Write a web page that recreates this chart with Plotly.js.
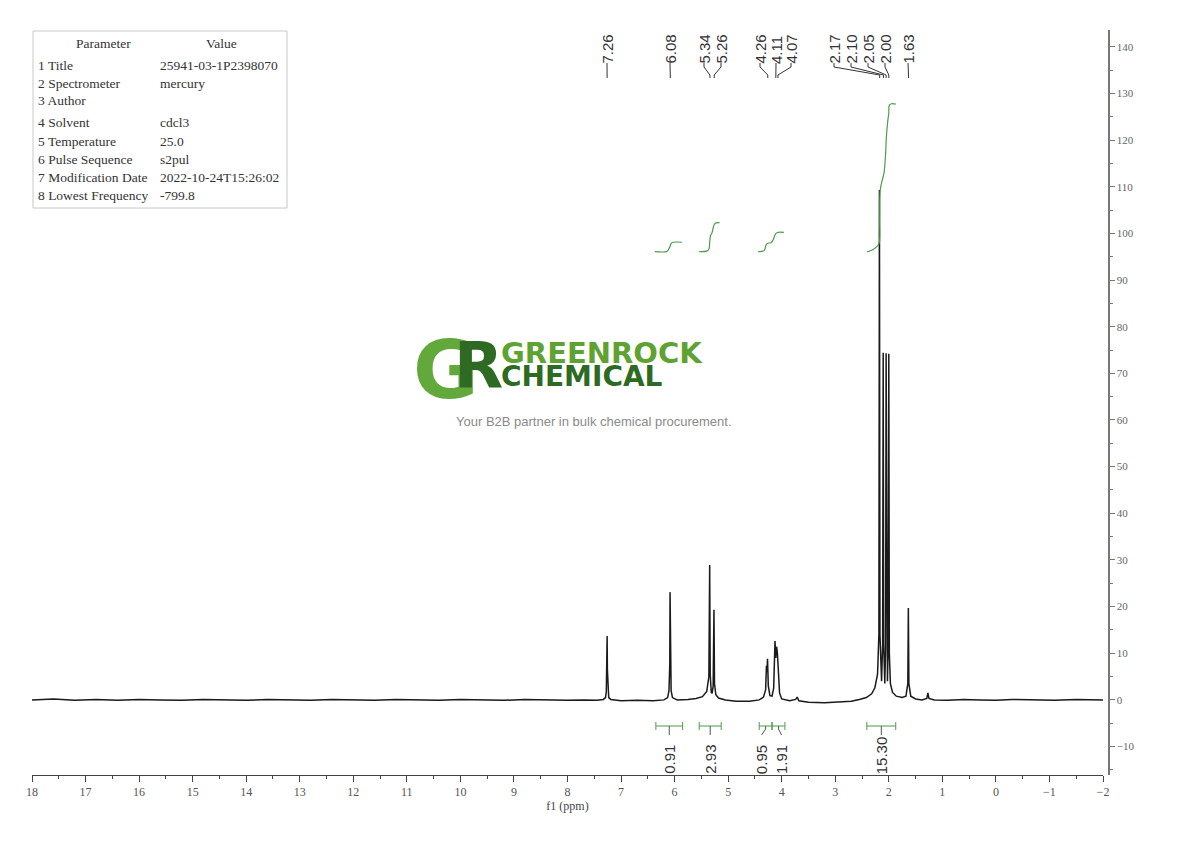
<!DOCTYPE html>
<html>
<head>
<meta charset="utf-8">
<script src="https://cdn.plot.ly/plotly-3.0.1.min.js"></script>
<style>html,body{margin:0;padding:0;background:#fff;}#chart{width:1190px;height:841px;}</style>
</head>
<body>
<div id="chart"></div>
<script>
// ---------------- DATA ----------------
const ppm = [18,17.6,17.2,16.8,16.4,16.0,15.6,15.2,14.8,14.4,14.0,13.6,13.2,12.8,12.4,12.0,11.6,11.2,10.8,10.4,10.0,9.6,9.2,8.8,8.4,8.0,7.7,7.45,
  7.33,7.29,7.275,7.265,7.26,7.255,7.245,7.23,7.19,7.0,6.7,6.4,6.2,
  6.13,6.105,6.09,6.085,6.08,6.065,6.04,5.95,5.75,5.6,5.48,5.40,5.36,5.345,5.335,5.315,5.30,5.28,5.265,5.255,5.23,5.18,5.05,4.85,4.6,
  4.42,4.34,4.30,4.285,4.275,4.265,4.25,4.22,4.18,4.15,4.125,4.11,4.095,4.08,4.065,4.04,4.0,3.85,3.74,3.71,3.68,3.5,3.2,2.9,2.7,2.55,
  2.42,2.32,2.26,2.21,2.185,2.175,2.165,2.135,2.115,2.105,2.095,2.075,2.06,2.05,2.04,2.025,2.01,2.0,1.99,1.97,1.93,1.86,1.75,1.68,
  1.645,1.635,1.625,1.59,1.5,1.38,1.29,1.27,1.25,1.15,0.9,0.6,0.3,0.0,-0.3,-0.7,-1.1,-1.5,-1.8,-2.0];
const intensity = [0.0,0.2,-0.1,0.1,-0.1,0.1,0.0,-0.1,0.1,0.0,-0.1,0.1,0.0,-0.1,0.1,0.0,-0.1,0.1,0.0,-0.1,0.1,0.0,-0.1,0.1,0.0,-0.1,0.0,-0.1,
  0.1,0.5,1.8,6.5,13.7,6.5,1.8,0.5,0.1,-0.2,-0.1,-0.2,0.0,
  0.5,2.0,7.5,23.1,7.5,2.0,0.5,0.0,0.1,0.3,0.7,1.8,5.0,28.9,5.5,1.6,1.4,3.0,19.3,3.5,1.1,0.4,0.0,-0.3,-0.3,
  0.0,0.6,2.2,7.3,6.0,8.8,3.0,0.9,0.8,2.5,12.6,9.0,11.4,10.0,6.0,1.5,0.2,-0.2,0.1,0.6,-0.2,-0.5,-0.6,-0.5,-0.3,0.1,
  0.5,1.3,2.6,5.5,14,109.3,14,4.0,12,74.4,12,3.5,11,74.3,11,4.0,12,74.2,10,3.5,1.6,0.8,0.5,0.8,
  3.5,19.7,3.5,0.8,0.2,0.0,0.3,1.5,0.3,0.0,-0.1,0.1,0.0,-0.1,0.1,0.0,-0.1,0.1,0.0,0.0];

// integral curves (ppm, cumulative value on the same scale)
const int1Ppm = [6.37,6.15,6.12,6.09,6.06,6.03,5.86];
const int1Val = [96.1,96.1,96.4,97.1,97.9,98.1,98.1];
const int2Ppm = [5.54,5.40,5.36,5.345,5.33,5.30,5.27,5.24,5.16];
const int2Val = [96.1,96.2,96.6,98.0,99.5,100.2,101.6,102.2,102.3];
const int3Ppm = [4.44,4.33,4.29,4.26,4.20,4.16,4.12,4.08,3.96];
const int3Val = [96.1,96.3,97.6,97.9,98.0,98.6,99.8,100.2,100.2];
const int4Ppm = [2.41,2.30,2.22,2.18,2.17,2.16,2.12,2.09,2.06,2.045,2.02,2.00,1.99,1.95,1.87];
const int4Val = [96.0,96.5,97.2,97.9,103,109.3,111.5,112.9,117,120.7,124,125.8,127.5,127.8,127.7];

// integration ranges and values
const intStart = [6.35,5.54,4.42,4.18,2.41];
const intEnd   = [5.85,5.13,4.18,3.94,1.87];
const intLabels = ['0.91','2.93','0.95','1.91','15.30'];

// peak picking
const peakPpm = [7.26,6.08,5.34,5.26,4.26,4.11,4.07,2.17,2.10,2.05,2.00,1.63];
const peakLabels = ['7.26','6.08','5.34','5.26','4.26','4.11','4.07','2.17','2.10','2.05','2.00','1.63'];

// parameter table
const paramNames = ['1 Title','2 Spectrometer','3 Author','4 Solvent','5 Temperature','6 Pulse Sequence','7 Modification Date','8 Lowest Frequency'];
const paramValues = ['25941-03-1P2398070','mercury','','cdcl3','25.0','s2pul','2022-10-24T15:26:02','-799.8'];

// ---------------- LAYOUT HELPERS ----------------
const W = 1190, H = 841;
const ML = 32, MR = 82, MT = 30, MB = 66;
const PW = W - ML - MR, PH = H - MT - MB;
const X0 = 18, X1 = -2;          // x range
const Y0 = -16.1, Y1 = 143.6;    // y range
const xDomEnd = (1103 - ML) / PW;
const pxPerPpm = (1103 - ML) / (X0 - X1);
const pxPerUnit = PH / (Y1 - Y0);
const ppmFromPx = px => X0 - (px - ML) / pxPerPpm;
const yFromPx = py => Y1 - (py - MT) / pxPerUnit;
const px2paperX = px => (px - ML) / PW;
const py2paperY = py => (H - MB - py) / PH;

// label layout (pixel positions of peak label texts)
const peakLabelPx = [607,670,704,721,760,776,791,834,851,868,885,908];
const intLabelShiftPx = [0,0,-4,3,0];

const green = '#4c9c4c';
const traces = [];

traces.push({x: ppm, y: intensity, type: 'scatter', mode: 'lines',
  line: {color: '#1a1a1a', width: 1.5}, hoverinfo: 'skip'});

[[int1Ppm,int1Val],[int2Ppm,int2Val],[int3Ppm,int3Val],[int4Ppm,int4Val]].forEach(([a,b]) => {
  traces.push({x: a, y: b, type: 'scatter', mode: 'lines', line: {color: green, width: 1.2, shape: 'spline'}, hoverinfo: 'skip'});
});

// integration brackets
const bY = yFromPx(726), capUp = yFromPx(722), capDn = yFromPx(730), stemY = yFromPx(735);
const bx = [], by = [], sx = [], sy = [];
intStart.forEach((s, i) => {
  const e = intEnd[i];
  bx.push(s, e, null, s, s, null, e, e, null);
  by.push(bY, bY, null, capUp, capDn, null, capUp, capDn, null);
  const c = (s + e) / 2;
  const lx = ppmFromPx(ML + (X0 - c) * pxPerPpm + intLabelShiftPx[i]);
  sx.push(c, c, lx, null);
  sy.push(bY, yFromPx(729), stemY, null);
});
traces.push({x: bx, y: by, type: 'scatter', mode: 'lines', line: {color: green, width: 1}, hoverinfo: 'skip'});
traces.push({x: sx, y: sy, type: 'scatter', mode: 'lines', line: {color: '#555', width: 1}, hoverinfo: 'skip'});

// peak label connectors
const cx = [], cy = [];
peakPpm.forEach((p, i) => {
  const lx = ppmFromPx(peakLabelPx[i]);
  cx.push(lx, lx, p, p, null);
  cy.push(yFromPx(63), yFromPx(67), yFromPx(75), yFromPx(78), null);
});
traces.push({x: cx, y: cy, type: 'scatter', mode: 'lines', line: {color: '#333', width: 1}, hoverinfo: 'skip'});

const annotations = [];
peakLabels.forEach((t, i) => {
  annotations.push({x: ppmFromPx(peakLabelPx[i]), y: yFromPx(66), xref: 'x', yref: 'y', text: t, showarrow: false,
    textangle: -90, xanchor: 'center', yanchor: 'bottom', font: {family: 'Liberation Sans, Arial', size: 15, color: '#333'}});
});
intLabels.forEach((t, i) => {
  const c = (intStart[i] + intEnd[i]) / 2;
  const lx = ppmFromPx(ML + (X0 - c) * pxPerPpm + intLabelShiftPx[i]);
  annotations.push({x: lx, y: py2paperY(776), xref: 'x', yref: 'paper', text: t, showarrow: false,
    textangle: -90, xanchor: 'center', yanchor: 'bottom', font: {family: 'Liberation Sans, Arial', size: 15, color: '#333'}});
});

// parameter table
const tFont = {family: 'Liberation Serif, Times New Roman, serif', size: 13.5, color: '#333'};
annotations.push({x: px2paperX(103), y: py2paperY(43), xref: 'paper', yref: 'paper', text: 'Parameter', showarrow: false, xanchor: 'center', yanchor: 'middle', font: tFont});
annotations.push({x: px2paperX(221), y: py2paperY(43), xref: 'paper', yref: 'paper', text: 'Value', showarrow: false, xanchor: 'center', yanchor: 'middle', font: tFont});
const rowY = [65, 83, 101, 123, 141, 159, 177, 195];
paramNames.forEach((n, i) => {
  annotations.push({x: px2paperX(36), y: py2paperY(rowY[i]), xref: 'paper', yref: 'paper', text: n, showarrow: false, xanchor: 'left', yanchor: 'middle', font: tFont});
  if (paramValues[i]) annotations.push({x: px2paperX(158), y: py2paperY(rowY[i]), xref: 'paper', yref: 'paper', text: paramValues[i], showarrow: false, xanchor: 'left', yanchor: 'middle', font: tFont});
});

// watermark
annotations.push({x: px2paperX(446), y: py2paperY(370), xref: 'paper', yref: 'paper', text: 'G', showarrow: false, xanchor: 'center', yanchor: 'middle',
  font: {family: 'DejaVu Sans', size: 80, color: '#62a83a', weight: 'bold'}});
annotations.push({x: px2paperX(478), y: py2paperY(366), xref: 'paper', yref: 'paper', text: 'R', showarrow: false, xanchor: 'center', yanchor: 'middle',
  font: {family: 'DejaVu Sans', size: 64, color: '#2e6a24', weight: 'bold'}});
annotations.push({x: px2paperX(499), y: py2paperY(353), xref: 'paper', yref: 'paper', text: 'GREENROCK', showarrow: false, xanchor: 'left', yanchor: 'middle',
  font: {family: 'DejaVu Sans', size: 29, color: '#5ea332', weight: 'bold'}});
annotations.push({x: px2paperX(499), y: py2paperY(377), xref: 'paper', yref: 'paper', text: 'CHEMICAL', showarrow: false, xanchor: 'left', yanchor: 'middle',
  font: {family: 'DejaVu Sans', size: 28, color: '#2d6b22', weight: 'bold'}});
annotations.push({x: px2paperX(594), y: py2paperY(421), xref: 'paper', yref: 'paper', text: 'Your B2B partner in bulk chemical procurement.', showarrow: false, xanchor: 'center', yanchor: 'middle',
  font: {family: 'Liberation Sans, Arial', size: 13, color: '#8a8a8a'}});

const shapes = [{type: 'rect', xref: 'paper', yref: 'paper', x0: px2paperX(33), x1: px2paperX(287), y0: py2paperY(208), y1: py2paperY(31),
  line: {color: '#c8c8c8', width: 1}, fillcolor: 'rgba(0,0,0,0)'}];

const axFont = {family: 'Liberation Serif, Times New Roman, serif', size: 12, color: '#555'};
const layout = {
  width: W, height: H, margin: {l: ML, r: MR, t: MT, b: MB, pad: 0},
  paper_bgcolor: '#fff', plot_bgcolor: 'rgba(0,0,0,0)', showlegend: false, hovermode: false,
  xaxis: {range: [X0, X1], domain: [0, xDomEnd], showgrid: false, zeroline: false, showline: true, linecolor: '#444', linewidth: 1,
    ticks: 'outside', ticklen: 6, tickcolor: '#444', dtick: 1, tick0: 0, tickfont: axFont,
    minor: {dtick: 0.5, ticks: 'outside', ticklen: 3, tickcolor: '#444'},
    title: {text: 'f1 (ppm)', font: {family: 'Liberation Serif, Times New Roman, serif', size: 12, color: '#444'}, standoff: 0}},
  yaxis: {range: [Y0, Y1], side: 'right', anchor: 'free', position: 1, showgrid: false, zeroline: false, showline: true, linecolor: '#777', linewidth: 1.5,
    ticks: 'outside', ticklen: 5, tickcolor: '#777', dtick: 10, tick0: 0, tickfont: {family: 'Liberation Serif, Times New Roman, serif', size: 11, color: '#666'},
    minor: {dtick: 5, ticks: 'outside', ticklen: 3, tickcolor: '#777'}},
  annotations: annotations, shapes: shapes
};

Plotly.newPlot('chart', traces, layout, {staticPlot: true, displayModeBar: false});
</script>
</body>
</html>
